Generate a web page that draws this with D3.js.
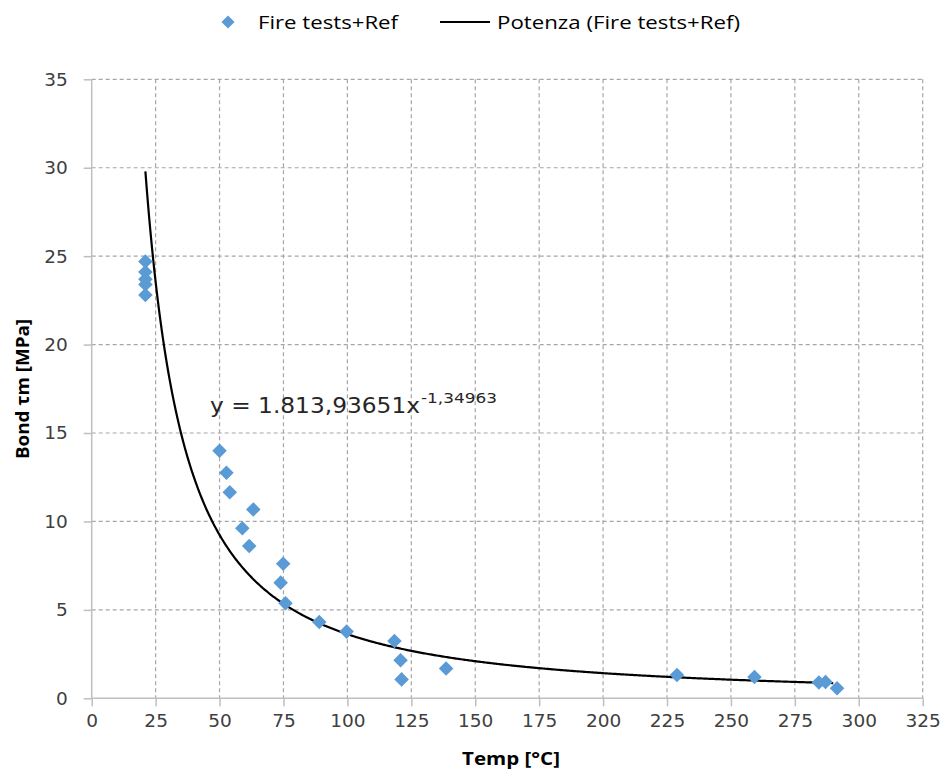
<!DOCTYPE html>
<html><head><meta charset="utf-8">
<script src="https://cdn.jsdelivr.net/npm/d3@7"></script>
<style>body{margin:0;background:#fff}svg{display:block}</style>
</head><body>
<svg id="c" width="943" height="773"></svg>
<script>
// Data
const tempC = [21,21,21,21,21, 50,52.7,54,63.2,58.9,61.6,74.9,73.9,75.8,89,99.7,118.4,120.8,121.2,138.6,228.9,259.2,284.4,287,291.5];
const bondMPa = [24.7,24.1,23.7,23.4,22.8, 14.0,12.75,11.65,10.68,9.61,8.61,7.61,6.54,5.37,4.31,3.77,3.24,2.15,1.07,1.68,1.32,1.2,0.89,0.92,0.57];
const xTicks = [0,25,50,75,100,125,150,175,200,225,250,275,300,325];
const yTicks = [0,5,10,15,20,25,30,35];
// Power trendline shown on chart: y = 1813.93651 * x^-1.34963, drawn from x=21 to x=290
const trendCoef = [1813.93651, -1.34963];
const trendRange = [21, 290];
const seriesNames = ["Fire tests+Ref", "Potenza (Fire tests+Ref)"];

const svg = d3.select("#c");
const L = 91.7, R = 922.7, T = 79.3, B = 698.3;
const x = d3.scaleLinear().domain([0,325]).range([L,R]);
const y = d3.scaleLinear().domain([0,35]).range([B,T]);

const gridCol = "#a6a6a6", axisCol = "#bfbfbf";
// grid
svg.append("g").selectAll("line").data(xTicks.filter(d=>d>0)).join("line")
  .attr("x1",d=>x(d)).attr("x2",d=>x(d)).attr("y1",T).attr("y2",B)
  .attr("stroke",gridCol).attr("stroke-width",1.2).attr("stroke-dasharray","4,3");
svg.append("g").selectAll("line").data(yTicks.filter(d=>d>0)).join("line")
  .attr("x1",L).attr("x2",R).attr("y1",d=>y(d)).attr("y2",d=>y(d))
  .attr("stroke",gridCol).attr("stroke-width",1.2).attr("stroke-dasharray","4,3");

// axes
const fnt = "'DejaVu Sans', sans-serif";
const xa = svg.append("g").attr("transform",`translate(0,${B})`)
  .call(d3.axisBottom(x).tickValues(xTicks).tickSize(8).tickPadding(8).tickFormat(d3.format("d")));
const ya = svg.append("g").attr("transform",`translate(${L},0)`)
  .call(d3.axisLeft(y).tickValues(yTicks).tickSize(8).tickPadding(16).tickFormat(d3.format("d")));
[xa,ya].forEach(g=>{
  g.select(".domain").attr("stroke",axisCol).attr("stroke-width",1.5);
  g.selectAll(".tick line").attr("stroke",axisCol).attr("stroke-width",1.5);
  g.selectAll(".tick text").attr("fill","#404040").style("font-family",fnt).style("font-size","18.5px");
});
xa.select(".domain").attr("d",`M${L},0H${R}`);
ya.select(".domain").attr("d",`M0,${B}V${T}`);

// trendline
const trendX = d3.range(trendRange[0], trendRange[1]+0.01, 0.5);
const line = d3.line().x(d=>x(d)).y(d=>y(trendCoef[0]*Math.pow(d,trendCoef[1])));
svg.append("path").datum(trendX).attr("d",line).attr("fill","none")
  .attr("stroke","#000").attr("stroke-width",2.2);

// points
const diamond = d3.symbol().type(d3.symbolDiamond2).size(135);
svg.append("g").selectAll("path").data(tempC.map((t,i)=>[t,bondMPa[i]])).join("path")
  .attr("d",diamond).attr("transform",d=>`translate(${x(d[0])},${y(d[1])})`)
  .attr("fill","#5b9bd5");

function fit(sel,len){ sel.attr("textLength",len).attr("lengthAdjust","spacingAndGlyphs"); return sel;}

// equation
fit(svg.append("text").attr("x",210).attr("y",413).style("font-family",fnt)
  .style("font-size","21px").attr("fill","#262626").text("y = 1.813,93651x"),210);
fit(svg.append("text").attr("x",421).attr("y",403).style("font-family",fnt)
  .style("font-size","14.5px").attr("fill","#262626").text("-1,34963"),76);

// axis titles
fit(svg.append("text").attr("x",511).attr("y",765).attr("text-anchor","middle")
  .style("font-family","'Open Sans', sans-serif").style("font-weight","bold").style("font-size","18px")
  .attr("fill","#000").text("Temp [°C]"),98);
fit(svg.append("text").attr("transform","translate(29,389) rotate(-90)").attr("text-anchor","middle")
  .style("font-family","'Open Sans', sans-serif").style("font-weight","bold").style("font-size","18.5px")
  .attr("fill","#000").text("Bond τm [MPa]"),140);

// legend
const lf = "'Open Sans', sans-serif";
svg.append("path").attr("d",d3.symbol().type(d3.symbolDiamond2).size(110))
  .attr("transform","translate(228,22)").attr("fill","#5b9bd5");
fit(svg.append("text").attr("x",258).attr("y",29).style("font-family",lf).style("font-size","19px")
  .attr("fill","#000").text(seriesNames[0]),140);
svg.append("line").attr("x1",440).attr("x2",490).attr("y1",22).attr("y2",22)
  .attr("stroke","#000").attr("stroke-width",2.2);
fit(svg.append("text").attr("x",497).attr("y",29).style("font-family",lf).style("font-size","19px")
  .attr("fill","#000").text(seriesNames[1]),243);
</script>
</body></html>
